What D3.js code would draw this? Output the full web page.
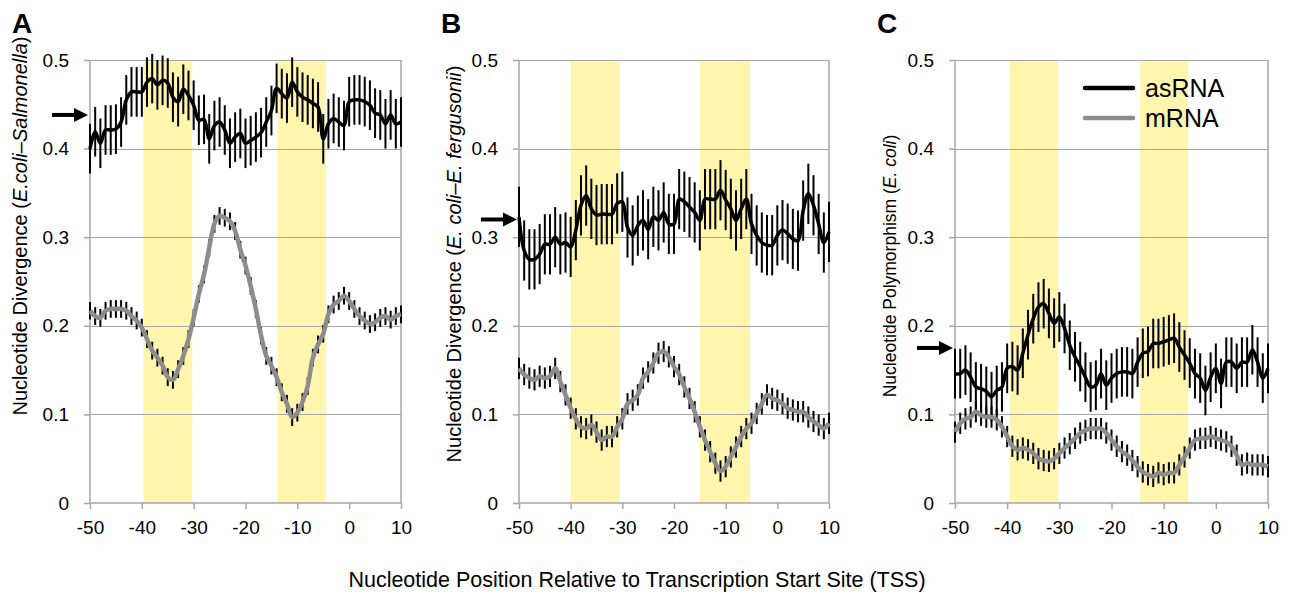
<!DOCTYPE html>
<meta charset="utf-8">
<style>
body { margin: 0; background: #fff; }
svg text { font-family: "Liberation Sans", Arial, sans-serif; fill: #000; }
.grid line { stroke: #a6a6a6; stroke-width: 1; shape-rendering: crispEdges; }
.axis path, .axis line { stroke: #a6a6a6; stroke-width: 1.5; fill: none; }
.axis text { font-size: 19px; fill: #000; }
</style>
<svg id="chart" width="1293" height="593"></svg>
<script src="https://d3js.org/d3.v7.min.js"></script>
<script>

// positions relative to TSS
var positions = d3.range(-50, 11);
var xTicks = [-50, -40, -30, -20, -10, 0, 10];
var yTicks = [0, 0.1, 0.2, 0.3, 0.4, 0.5];

// panel A: E.coli - Salmonella
var asA = [0.400, 0.419, 0.406, 0.421, 0.421, 0.422, 0.430, 0.455, 0.464, 0.464,
           0.464, 0.475, 0.479, 0.472, 0.477, 0.474, 0.458, 0.453, 0.467, 0.460,
           0.449, 0.432, 0.433, 0.411, 0.426, 0.430, 0.421, 0.406, 0.413, 0.417,
           0.406, 0.409, 0.413, 0.418, 0.430, 0.443, 0.468, 0.462, 0.457, 0.475,
           0.464, 0.458, 0.455, 0.451, 0.447, 0.411, 0.428, 0.434, 0.430, 0.426,
           0.453, 0.455, 0.455, 0.453, 0.449, 0.440, 0.438, 0.428, 0.438, 0.428, 0.430];
var mrA = [0.217, 0.211, 0.209, 0.217, 0.219, 0.219, 0.219, 0.217, 0.211, 0.206,
           0.198, 0.185, 0.172, 0.164, 0.155, 0.142, 0.139, 0.151, 0.166, 0.185,
           0.209, 0.236, 0.258, 0.288, 0.315, 0.324, 0.322, 0.318, 0.307, 0.286,
           0.268, 0.245, 0.219, 0.189, 0.166, 0.155, 0.142, 0.125, 0.112, 0.097,
           0.102, 0.114, 0.132, 0.164, 0.179, 0.191, 0.213, 0.224, 0.228, 0.234,
           0.228, 0.219, 0.211, 0.206, 0.202, 0.204, 0.209, 0.211, 0.207, 0.211, 0.213];

// panel B: E. coli - E. fergusonii
var asB = [0.323, 0.285, 0.275, 0.275, 0.281, 0.292, 0.292, 0.300, 0.292, 0.294,
           0.289, 0.308, 0.336, 0.347, 0.332, 0.325, 0.326, 0.326, 0.326, 0.338,
           0.340, 0.311, 0.302, 0.313, 0.319, 0.309, 0.323, 0.319, 0.328, 0.315,
           0.315, 0.343, 0.340, 0.334, 0.328, 0.319, 0.343, 0.343, 0.343, 0.353,
           0.342, 0.332, 0.319, 0.332, 0.343, 0.315, 0.302, 0.294, 0.291, 0.291,
           0.302, 0.308, 0.304, 0.298, 0.296, 0.330, 0.349, 0.336, 0.315, 0.294, 0.306];
var mrB = [0.152, 0.145, 0.141, 0.139, 0.143, 0.141, 0.143, 0.152, 0.137, 0.122,
           0.107, 0.095, 0.086, 0.084, 0.088, 0.080, 0.071, 0.075, 0.075, 0.086,
           0.095, 0.112, 0.116, 0.122, 0.141, 0.148, 0.158, 0.169, 0.171, 0.165,
           0.154, 0.145, 0.131, 0.118, 0.103, 0.086, 0.071, 0.058, 0.045, 0.036,
           0.041, 0.052, 0.063, 0.075, 0.084, 0.090, 0.101, 0.112, 0.122, 0.118,
           0.116, 0.112, 0.107, 0.105, 0.103, 0.103, 0.097, 0.092, 0.088, 0.084, 0.090];

// panel C: E. coli polymorphism
var asC = [0.146, 0.146, 0.150, 0.142, 0.131, 0.129, 0.126, 0.120, 0.127, 0.131,
           0.152, 0.154, 0.150, 0.169, 0.190, 0.208, 0.221, 0.225, 0.214, 0.203,
           0.210, 0.197, 0.178, 0.165, 0.154, 0.142, 0.131, 0.133, 0.146, 0.133,
           0.141, 0.146, 0.148, 0.148, 0.146, 0.159, 0.169, 0.171, 0.180, 0.180,
           0.182, 0.184, 0.186, 0.176, 0.167, 0.158, 0.146, 0.141, 0.127, 0.142,
           0.152, 0.135, 0.159, 0.159, 0.152, 0.159, 0.159, 0.173, 0.159, 0.141, 0.152];
var mrC = [0.080, 0.090, 0.095, 0.097, 0.103, 0.099, 0.097, 0.097, 0.094, 0.086,
           0.075, 0.064, 0.060, 0.062, 0.060, 0.056, 0.050, 0.048, 0.047, 0.050,
           0.056, 0.062, 0.067, 0.073, 0.079, 0.082, 0.084, 0.084, 0.084, 0.079,
           0.071, 0.064, 0.058, 0.054, 0.048, 0.041, 0.035, 0.032, 0.030, 0.034,
           0.032, 0.034, 0.034, 0.043, 0.052, 0.062, 0.071, 0.073, 0.073, 0.075,
           0.073, 0.071, 0.069, 0.064, 0.054, 0.043, 0.045, 0.043, 0.043, 0.043, 0.041];

// half-length of the error bars (asRNA, mRNA) per panel
var errAs = [0.028, 0.034, 0.028];
var errMr = [0.010, 0.012, 0.012];

// shaded regions
var bandsA = [[-39.7, -30.3], [-13.8, -4.5]];
var bandsB = [[-40, -30.5], [-15, -5.3]];
var bandsC = [[-39.5, -30.2], [-14.5, -5.3]];

// arrow marks (genome-wide average)
var arrowVals = [0.438, 0.32, 0.175];

var letters = ["A", "B", "C"];
var yTitles = [
  [["Nucleotide Divergence (", false], ["E.coli–Salmonella", true], [")", false]],
  [["Nucleotide Divergence (", false], ["E. coli–E. fergusonii", true], [")", false]],
  [["Nucleotide Polymorphism (", false], ["E. coli", true], [")", false]]
];
var legendNames = ["asRNA", "mRNA"];

var panels = [
  {left: 90, width: 311, as: asA, mr: mrA, bands: bandsA, titleY: 226, titleX: 20, titleSize: 20},
  {left: 519, width: 310, as: asB, mr: mrB, bands: bandsB, titleY: 264, titleX: 454, titleSize: 20},
  {left: 955, width: 313, as: asC, mr: mrC, bands: bandsC, titleY: 266, titleX: 890, titleSize: 17.5}
];

var plotTop = 60, plotBottom = 503;
var svg = d3.select("#chart");

var y = d3.scaleLinear().domain([0, 0.5]).range([plotBottom, plotTop]);

panels.forEach(function (p, k) {
  var x = d3.scaleLinear().domain([-50, 10]).range([p.left, p.left + p.width]);
  var g = svg.append("g");

  // bands
  g.selectAll(".band").data(p.bands).enter().append("rect")
      .attr("x", function (d) { return x(d[0]); })
      .attr("width", function (d) { return x(d[1]) - x(d[0]); })
      .attr("y", plotTop)
      .attr("height", plotBottom - plotTop)
      .attr("fill", "#fff5ad");

  // gridlines
  g.append("g").attr("class", "grid")
    .selectAll("line").data(yTicks.slice(1)).enter().append("line")
      .attr("x1", p.left).attr("x2", p.left + p.width)
      .attr("y1", function (d) { return Math.round(y(d)) + 0.5; })
      .attr("y2", function (d) { return Math.round(y(d)) + 0.5; });
  g.append("line")
      .attr("x1", p.left + p.width).attr("x2", p.left + p.width)
      .attr("y1", plotTop).attr("y2", plotBottom)
      .attr("stroke", "#a6a6a6").attr("stroke-width", 1.5);

  // axes
  var yAxis = d3.axisLeft(y).tickValues(yTicks).tickSize(6).tickPadding(15)
      .tickFormat(function (d) { return d === 0 ? "0" : d.toFixed(1); });
  g.append("g").attr("class", "axis")
      .attr("transform", "translate(" + p.left + ",0)")
      .call(yAxis)
      .call(function (s) { s.select(".domain").attr("d", "M0," + plotTop + "V" + plotBottom); });

  var xAxis = d3.axisBottom(x).tickValues(xTicks).tickSize(6).tickPadding(12)
      .tickFormat(function (d) { return String(d); });
  g.append("g").attr("class", "axis")
      .attr("transform", "translate(0," + plotBottom + ")")
      .call(xAxis)
      .call(function (s) { s.select(".domain").attr("d", "M" + p.left + ",0H" + (p.left + p.width)); });

  var line = d3.line()
      .x(function (d, i) { return x(positions[i]); })
      .y(function (d) { return y(d); })
      .curve(d3.curveCatmullRom.alpha(0.5));

  // asRNA error bars + line
  g.selectAll(".eb-as").data(p.as).enter().append("line")
      .attr("x1", function (d, i) { return x(positions[i]); })
      .attr("x2", function (d, i) { return x(positions[i]); })
      .attr("y1", function (d) { return y(d - errAs[k]); })
      .attr("y2", function (d) { return y(d + errAs[k]); })
      .attr("stroke", "#000").attr("stroke-width", 2);
  g.append("path").datum(p.as)
      .attr("d", line).attr("fill", "none")
      .attr("stroke", "#000").attr("stroke-width", 3.5).attr("stroke-linejoin", "round");

  // mRNA error bars + line
  g.selectAll(".eb-mr").data(p.mr).enter().append("line")
      .attr("x1", function (d, i) { return x(positions[i]); })
      .attr("x2", function (d, i) { return x(positions[i]); })
      .attr("y1", function (d) { return y(d - errMr[k]); })
      .attr("y2", function (d) { return y(d + errMr[k]); })
      .attr("stroke", "#000").attr("stroke-width", 2);
  g.append("path").datum(p.mr)
      .attr("d", line).attr("fill", "none")
      .attr("stroke", "#8c8c8c").attr("stroke-width", 4.5).attr("stroke-linejoin", "round");

  // arrow
  var ay = y(arrowVals[k]);
  g.append("line")
      .attr("x1", p.left - 38).attr("x2", p.left - 14)
      .attr("y1", ay).attr("y2", ay)
      .attr("stroke", "#000").attr("stroke-width", 4);
  g.append("path")
      .attr("d", "M" + (p.left - 2) + "," + ay + "L" + (p.left - 16) + "," + (ay - 7) + "L" + (p.left - 16) + "," + (ay + 7) + "Z")
      .attr("fill", "#000");

  // panel letter
  g.append("text")
      .attr("x", p.left - 78).attr("y", 33)
      .style("font-size", "28px").style("font-weight", "bold")
      .text(letters[k]);

  // y title
  var t = g.append("text")
      .attr("transform", "translate(" + p.titleX + "," + p.titleY + ") rotate(-90)")
      .attr("text-anchor", "middle")
      .attr("dy", "0.35em")
      .style("font-size", p.titleSize + "px");
  yTitles[k].forEach(function (part) {
    t.append("tspan").text(part[0]).style("font-style", part[1] ? "italic" : "normal");
  });
});

// legend
var legend = svg.append("g").attr("transform", "translate(1085,88)");
legend.selectAll("line").data(legendNames).enter().append("line")
    .attr("x1", 0).attr("x2", 48)
    .attr("y1", function (d, i) { return i * 30; })
    .attr("y2", function (d, i) { return i * 30; })
    .attr("stroke", function (d, i) { return i === 0 ? "#000" : "#8c8c8c"; })
    .attr("stroke-width", 4.5).attr("stroke-linecap", "round");
legend.selectAll("text").data(legendNames).enter().append("text")
    .attr("x", 60)
    .attr("y", function (d, i) { return i * 30; })
    .attr("dy", "0.35em")
    .style("font-size", "25px")
    .text(function (d) { return d; });

// x title
svg.append("text")
    .attr("x", 637).attr("y", 587)
    .attr("text-anchor", "middle")
    .style("font-size", "21.5px")
    .text("Nucleotide Position Relative to Transcription Start Site (TSS)");

</script>
